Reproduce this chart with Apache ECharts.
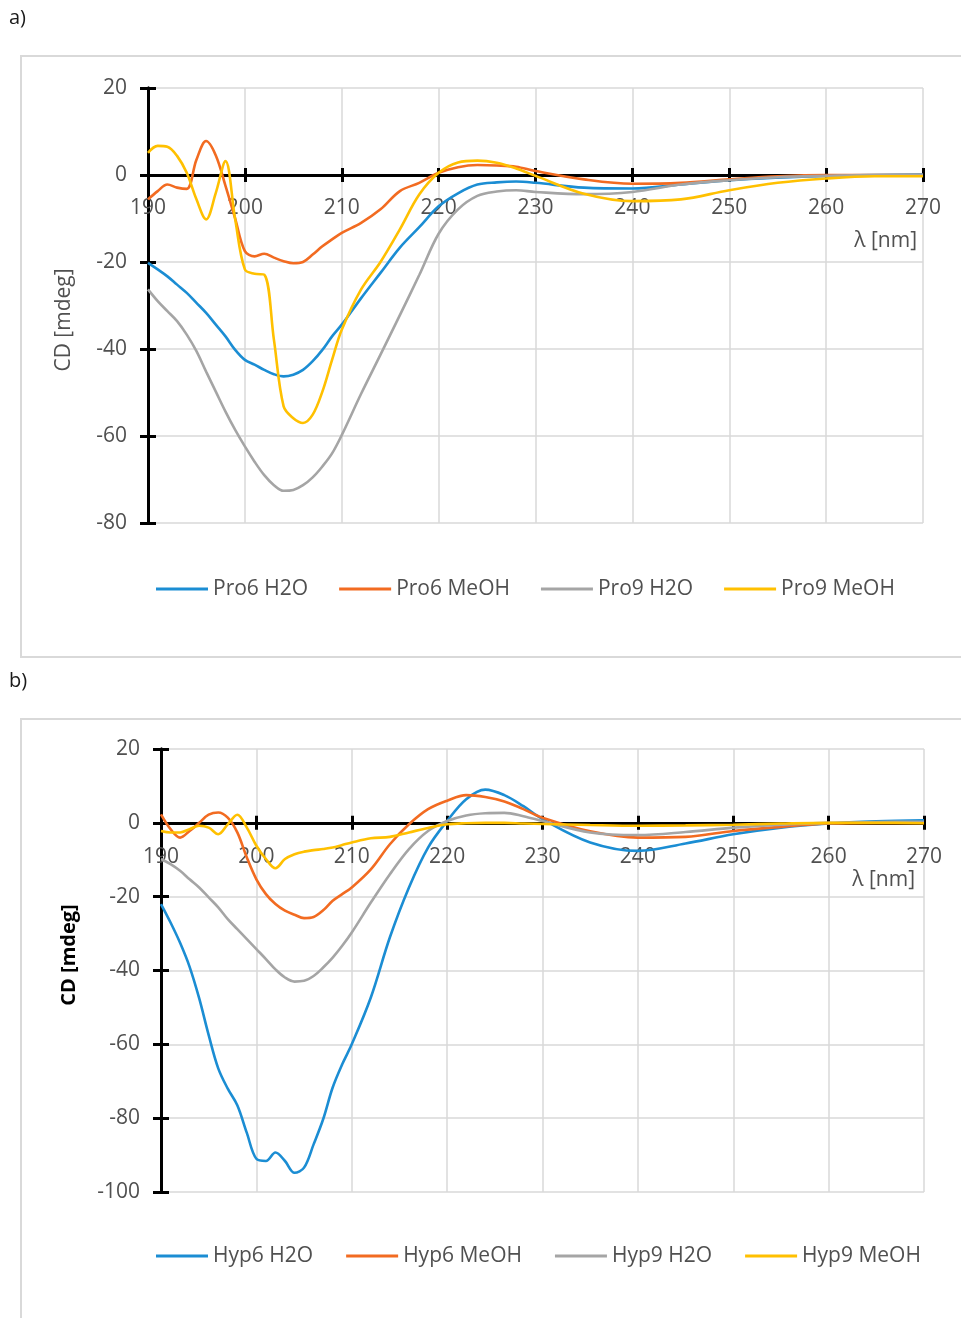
<!DOCTYPE html>
<html><head><meta charset="utf-8">
<script src="https://cdn.jsdelivr.net/npm/echarts@6/dist/echarts.min.js"></script>
<style>html,body{margin:0;padding:0;background:#fff}#c{width:961px;height:1318px}</style>
</head><body><div id="c"></div>
<script>
// shared wavelength grid (nm)
const wavelengths = [190,191,192,193,194,195,196,197,198,199,200,201,202,203,204,205,206,207,208,209,210,
  212,214,216,218,220,222,224,226,228,230,235,240,245,250,255,260,265,270];

// Panel a)
const pro6H2O  = [-20.2,-21.7,-23.3,-25.2,-27.1,-29.4,-31.7,-34.4,-37.1,-40.2,-42.5,-43.6,-44.8,-45.8,-46.3,-45.9,-44.8,-42.8,-40.2,-37.1,-34.4,
  -28.3,-22.5,-16.7,-12,-7.2,-4.2,-2.2,-1.7,-1.5,-1.8,-2.9,-3.1,-2.2,-1.2,-0.6,-0.2,0,0.1];
const pro6MeOH = [-5.6,-3.7,-2.2,-2.9,-3.2,3.5,7.8,4.5,-2.5,-10,-17.5,-18.7,-18.1,-19,-19.8,-20.3,-20,-18.3,-16.4,-14.8,-13.3,
  -11,-7.9,-3.7,-1.8,0.5,1.8,2.3,2.2,1.9,0.9,-1.0,-2.0,-1.8,-1.0,-0.3,0,0,0];
const pro9H2O  = [-26.3,-29,-31.3,-33.6,-36.7,-40.5,-45.2,-49.8,-54.4,-58.6,-62.4,-65.9,-69,-71.3,-72.6,-72.4,-71.3,-69.5,-67,-64,-59.8,
  -50.3,-41.3,-32.2,-23,-13.5,-7.9,-4.8,-3.8,-3.5,-3.9,-4.4,-3.9,-2.2,-1.2,-0.5,-0.2,0,0];
const pro9MeOH = [5.1,6.7,6.5,4.4,0.5,-5.6,-10.2,-4.1,3.2,-10.2,-21.7,-22.7,-22.9,-37.9,-53.2,-55.9,-57,-55.1,-49.8,-42.5,-35.6,
  -26.3,-20,-12.5,-4.5,0.5,2.9,3.3,2.8,1.5,-0.2,-4.3,-6,-5.6,-3.5,-1.8,-0.8,-0.3,-0.3];

// Panel b)
const hyp6H2O  = [-22,-27,-32.5,-39,-47.5,-57.5,-66.5,-72,-76.5,-84,-91,-91.6,-89.3,-91.6,-94.8,-93.4,-87.1,-80.3,-71.7,-65.4,-60,
  -47.3,-31,-17.5,-6.7,0.5,6.4,9,7.5,4.5,1,-5.3,-7.6,-5.6,-3.1,-1.3,-0.2,0.4,0.7];
const hyp6MeOH = [2.3,-1.7,-4,-2.2,0,2.2,2.8,1.4,-2.6,-9.4,-15.3,-19.3,-22,-23.8,-24.9,-25.8,-25.5,-23.7,-21.1,-19.3,-17.5,
  -12.6,-5.8,-0.4,3.7,6,7.5,7,5.8,3.7,1.4,-2.3,-4,-3.8,-2.2,-1.1,-0.2,0,0];
const hyp9H2O  = [-9.8,-11.2,-13,-15.3,-17.5,-20.2,-22.9,-26.1,-28.8,-31.5,-34.2,-36.9,-39.7,-41.9,-43,-42.8,-41.5,-39.2,-36.5,-33.3,-29.7,
  -21.6,-13.9,-7.1,-2.2,0.5,2,2.6,2.7,1.8,0.5,-2.6,-3.3,-2.5,-1.3,-0.5,0,0.2,0.3];
const hyp9MeOH = [-2.2,-2.6,-2.6,-1.7,-0.8,-1.3,-3.1,-0.4,2.2,-1.3,-6.2,-9.8,-12.3,-9.8,-8.5,-7.8,-7.4,-7.1,-6.7,-6,-5.3,
  -4.2,-3.8,-2.6,-1.4,-0.4,-0.1,0,0,-0.2,-0.3,-0.6,-0.8,-0.7,-0.5,-0.2,0,0,-0.1];

const namesA = ['Pro6 H2O','Pro6 MeOH','Pro9 H2O','Pro9 MeOH'];
const namesB = ['Hyp6 H2O','Hyp6 MeOH','Hyp9 H2O','Hyp9 MeOH'];
const colors = ['#1b8dd3','#f26b21','#a5a5a5','#ffc000'];
const xRange = {min:190, max:270, interval:10};
const yRangeA = {min:-80, max:20, interval:20};
const yRangeB = {min:-100, max:20, interval:20};

const FONT = 'Open Sans';
const LABEL = '#505050';
const GRIDC = '#d9d9d9';

// plot areas (pixels)
const GA = {left:148, right:38, top:88, height:435};
const GB = {left:161, right:37, top:749, height:443};

function xAxisMain(gridIndex, yIdx, inside){
  return {
    type:'value', gridIndex, position:'bottom', min:xRange.min, max:xRange.max, interval:xRange.interval,
    axisLine:{show:true, onZero:true, onZeroAxisIndex:yIdx, lineStyle:{color:'#000', width:3}},
    axisTick:{show:true, inside, length:7, lineStyle:{color:'#000', width:3}},
    axisLabel:{show:false},
    splitLine:{show:!inside, lineStyle:{color:GRIDC, width:1.5}}
  };
}
function xAxisLabels(gridIndex, margin){
  return {
    type:'value', gridIndex, position:'bottom', min:xRange.min, max:xRange.max, interval:xRange.interval,
    axisLine:{show:false}, axisTick:{show:false}, splitLine:{show:false},
    axisLabel:{show:true, margin, color:LABEL, fontFamily:FONT, fontSize:21}
  };
}
function yAxisMain(gridIndex, range, inside){
  return {
    type:'value', gridIndex, position:'left', min:range.min, max:range.max, interval:range.interval,
    axisLine:{show:true, lineStyle:{color:'#000', width:3}},
    axisTick:{show:true, inside, length:8, lineStyle:{color:'#000', width:3}},
    axisLabel:{show:!inside, margin:21, color:LABEL, fontFamily:FONT, fontSize:21},
    splitLine:{show:!inside, lineStyle:{color:GRIDC, width:1.5}}
  };
}
function yAxisHidden(gridIndex, range){
  return {type:'value', gridIndex, position:'left', min:0, max:range.max, show:false};
}
function mk(name, vals, color, xi, yi){
  return {type:'line', name, xAxisIndex:xi, yAxisIndex:yi,
    data: wavelengths.map((w,i)=>[w, vals[i]]),
    smooth:0.35, showSymbol:false, symbol:'none',
    lineStyle:{color, width:2.6}, itemStyle:{color}};
}
function legend(names, top, gap){
  return {data:names, left:151, top, icon:'rect', itemWidth:52, itemHeight:3, itemGap:gap,
    textStyle:{fontFamily:FONT, fontSize:21, color:LABEL, lineHeight:24}};
}

// label-only grids whose bottom edge sits on the zero line
const zeroA = GA.height * yRangeA.max / (yRangeA.max - yRangeA.min);
const zeroB = GB.height * yRangeB.max / (yRangeB.max - yRangeB.min);

const chart = echarts.init(document.getElementById('c'), null, {renderer:'canvas'});
chart.setOption({
  animation:false,
  backgroundColor:'#fff',
  grid:[
    GA, GB,
    {left:GA.left, right:GA.right, top:GA.top, height:zeroA},
    {left:GB.left, right:GB.right, top:GB.top, height:zeroB}
  ],
  xAxis:[xAxisMain(0,0,false), xAxisMain(0,0,true), xAxisMain(1,2,false), xAxisMain(1,2,true),
         xAxisLabels(2,23), xAxisLabels(3,24)],
  yAxis:[yAxisMain(0,yRangeA,false), yAxisMain(0,yRangeA,true), yAxisMain(1,yRangeB,false), yAxisMain(1,yRangeB,true),
         yAxisHidden(2,yRangeA), yAxisHidden(3,yRangeB)],
  legend:[legend(namesA,572,31), legend(namesB,1239,33)],
  series:[
    mk(namesA[0], pro6H2O, colors[0],0,0),
    mk(namesA[1], pro6MeOH, colors[1],0,0),
    mk(namesA[2], pro9H2O, colors[2],0,0),
    mk(namesA[3], pro9MeOH, colors[3],0,0),
    mk(namesB[0], hyp6H2O, colors[0],2,2),
    mk(namesB[1], hyp6MeOH, colors[1],2,2),
    mk(namesB[2], hyp9H2O, colors[2],2,2),
    mk(namesB[3], hyp9MeOH, colors[3],2,2)
  ],
  graphic:[
    {type:'rect', shape:{x:21, y:56, width:960, height:601}, style:{fill:'none', stroke:GRIDC, lineWidth:2}, z:-1},
    {type:'rect', shape:{x:21, y:719, width:960, height:640}, style:{fill:'none', stroke:GRIDC, lineWidth:2}, z:-1},
    {type:'text', left:9, top:8, style:{text:'a)', font:'20px '+FONT, fill:'#1a1a1a'}},
    {type:'text', left:9, top:671, style:{text:'b)', font:'20px '+FONT, fill:'#1a1a1a'}},
    {type:'text', right:44, top:231, style:{text:'λ [nm]', font:'21px '+FONT, fill:LABEL}},
    {type:'text', right:46, top:870, style:{text:'λ [nm]', font:'21px '+FONT, fill:LABEL}},
    {type:'text', x:64, y:320, rotation:Math.PI/2, style:{text:'CD [mdeg]', font:'21px '+FONT, fill:LABEL, align:'center', verticalAlign:'middle'}},
    {type:'text', x:69, y:955, rotation:Math.PI/2, style:{text:'CD [mdeg]', font:'bold 20px '+FONT, fill:'#000', align:'center', verticalAlign:'middle'}}
  ]
});
</script></body></html>
